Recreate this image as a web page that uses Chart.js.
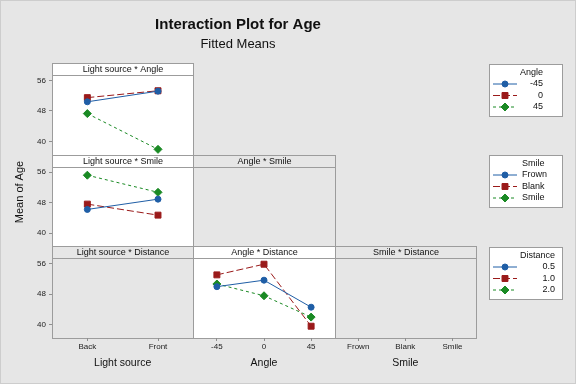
<!DOCTYPE html>
<html>
<head>
<meta charset="utf-8">
<script src="https://cdn.jsdelivr.net/npm/chart.js@4"></script>
<style>
  html, body { margin: 0; padding: 0; background: #e6e6e6; }
  canvas { display: block; }
</style>
</head>
<body>
<canvas id="chart" width="576" height="384"></canvas>
<script>
// categorías de cada factor
const lightSources = ["Back", "Front"];
const angles = ["-45", "0", "45"];
const smiles = ["Frown", "Blank", "Smile"];
const distances = ["0.5", "1.0", "2.0"];
const yTicks = [40, 48, 56];

// Light source * Angle (una serie por ángulo)
const lsAngleM45 = [50.4, 53.2];
const lsAngle0 = [51.5, 53.3];
const lsAngle45 = [47.3, 37.9];

// Light source * Smile
const lsSmileFrown = [46.2, 48.9];
const lsSmileBlank = [47.6, 44.7];
const lsSmileSmile = [55.2, 50.7];

// Angle * Distance
const angDist05 = [50.0, 51.7, 44.6];
const angDist10 = [53.1, 55.9, 39.6];
const angDist20 = [50.7, 47.6, 42.0];

const FONT = '"Liberation Sans", Arial, sans-serif';
const BG = "#e6e6e6";
const FRAME = "#9c9c9c";
const HEADER = 12;
const BLUE = "#1f5ea6";
const RED = "#9a1a1a";
const GREEN = "#1a8a24";

const colIds = ["xLS", "xAng", "xSmile"];
const rowIds = ["yR1", "yR2", "yR3"];

// celdas del triángulo inferior
const panels = [
    { col: 0, row: 0, title: "Light source * Angle", filled: true },
    { col: 0, row: 1, title: "Light source * Smile", filled: true },
    { col: 1, row: 1, title: "Angle * Smile", filled: false },
    { col: 0, row: 2, title: "Light source * Distance", filled: false },
    { col: 1, row: 2, title: "Angle * Distance", filled: true },
    { col: 2, row: 2, title: "Smile * Distance", filled: false }
];

const styles = [
    { color: BLUE, pointStyle: "circle", radius: 3, dash: [] },
    { color: RED, pointStyle: "rect", radius: 4.2, dash: [7, 3] },
    { color: GREEN, pointStyle: "rectRot", radius: 4, dash: [3, 3] }
];

function series(label, data, x, y, s) {
    const st = styles[s];
    return {
        label, data, xAxisID: x, yAxisID: y,
        borderColor: st.color, backgroundColor: st.color,
        pointBorderColor: st.color, pointBackgroundColor: st.color,
        pointStyle: st.pointStyle, pointRadius: st.radius, pointBorderWidth: 1,
        borderWidth: 1, borderDash: st.dash, fill: false, tension: 0
    };
}

const datasets = [
    series(angles[0], lsAngleM45, "xLS", "yR1", 0),
    series(angles[1], lsAngle0, "xLS", "yR1", 1),
    series(angles[2], lsAngle45, "xLS", "yR1", 2),
    series(smiles[0], lsSmileFrown, "xLS", "yR2", 0),
    series(smiles[1], lsSmileBlank, "xLS", "yR2", 1),
    series(smiles[2], lsSmileSmile, "xLS", "yR2", 2),
    series(distances[0], angDist05, "xAng", "yR3", 0),
    series(distances[1], angDist10, "xAng", "yR3", 1),
    series(distances[2], angDist20, "xAng", "yR3", 2)
];

// leyendas: una caja por factor de trazo
const legendGroups = [
    { title: "Angle", names: angles, first: 0, align: "right", textX: 543, top: 64 },
    { title: "Smile", names: smiles, first: 3, align: "left", textX: 522, top: 155 },
    { title: "Distance", names: distances, first: 6, align: "right", textX: 555, top: 247 }
];

function yRow(weight) {
    return {
        type: "linear", position: "left", stack: "rows", stackWeight: 1, weight,
        min: 36.5, max: 60.6,
        afterBuildTicks: s => { s.ticks = yTicks.map(v => ({ value: v })); },
        afterFit: s => { s.width = 52; },
        grid: { drawOnChartArea: false, tickLength: 3, color: "#8f8f8f" },
        border: { display: false },
        ticks: { padding: 3, color: "#222", font: { family: FONT, size: 8 } }
    };
}

function xCol(labels, weight, title) {
    return {
        type: "category", labels, position: "bottom", stack: "cols", stackWeight: 1, weight,
        offset: true,
        afterFit: s => { s.height = 46; },
        grid: { drawOnChartArea: false, offset: false, tickLength: 3, color: "#8f8f8f" },
        border: { display: false },
        ticks: { padding: 1, maxRotation: 0, autoSkip: false, color: "#222", font: { family: FONT, size: 8 } },
        title: { display: true, text: title, color: "#111", padding: { top: 0, bottom: 15 }, font: { family: FONT, size: 10.5 } }
    };
}

const panelPlugin = {
    id: "panelPlugin",
    beforeDraw(chart) {
        const ctx = chart.ctx;
        ctx.save();
        ctx.fillStyle = BG;
        ctx.fillRect(0, 0, chart.width, chart.height);
        ctx.strokeStyle = "#cdcdcd";
        ctx.lineWidth = 1;
        ctx.strokeRect(0.5, 0.5, chart.width - 1, chart.height - 1);

        // título y subtítulo centrados sobre la zona de paneles
        const cx = chart.chartArea.right / 2;
        ctx.fillStyle = "#111";
        ctx.textAlign = "center";
        ctx.textBaseline = "middle";
        ctx.font = `bold 15px ${FONT}`;
        ctx.fillText("Interaction Plot for Age", cx, 25);
        ctx.font = `13px ${FONT}`;
        ctx.fillText("Fitted Means", cx, 44);

        ctx.save();
        ctx.translate(20, 192);
        ctx.rotate(-Math.PI / 2);
        ctx.font = `11px ${FONT}`;
        ctx.fillText("Mean of Age", 0, 0);
        ctx.restore();

        panels.forEach(p => {
            const xs = chart.scales[colIds[p.col]];
            const ys = chart.scales[rowIds[p.row]];
            const l = Math.round(xs.left) + 0.5, r = Math.round(xs.right) + 0.5;
            const t = Math.round(ys.top) + 0.5, b = Math.round(ys.bottom) + 0.5;
            ctx.fillStyle = p.filled ? "#fff" : BG;
            ctx.fillRect(l, t, r - l, b - t);
            ctx.strokeStyle = FRAME;
            ctx.strokeRect(l, t, r - l, b - t);
            ctx.beginPath();
            ctx.moveTo(l, t + HEADER);
            ctx.lineTo(r, t + HEADER);
            ctx.stroke();
            ctx.fillStyle = "#111";
            ctx.font = `9px ${FONT}`;
            ctx.fillText(p.title, (l + r) / 2, t + HEADER / 2 + 0.5);
        });
        ctx.restore();
    },
    afterDraw(chart) {
        const ctx = chart.ctx;
        const rows = [20, 31.5, 43];
        ctx.save();
        legendGroups.forEach(g => {
            ctx.fillStyle = "#fff";
            ctx.fillRect(489.5, g.top + 0.5, 73, 52);
            ctx.strokeStyle = FRAME;
            ctx.lineWidth = 1;
            ctx.setLineDash([]);
            ctx.strokeRect(489.5, g.top + 0.5, 73, 52);

            ctx.fillStyle = "#111";
            ctx.font = `9px ${FONT}`;
            ctx.textBaseline = "middle";
            ctx.textAlign = g.align;
            ctx.fillText(g.title, g.textX, g.top + 9);

            g.names.forEach((name, i) => {
                const ds = chart.data.datasets[g.first + i];
                const y = g.top + rows[i];
                ctx.strokeStyle = ds.borderColor;
                ctx.setLineDash(ds.borderDash);
                ctx.beginPath();
                ctx.moveTo(493, y);
                ctx.lineTo(517, y);
                ctx.stroke();
                ctx.setLineDash([]);
                ctx.fillStyle = ds.pointBackgroundColor;
                Chart.helpers.drawPoint(ctx, {
                    pointStyle: ds.pointStyle, radius: ds.pointRadius, rotation: 0, borderWidth: 1
                }, 505, y);
                ctx.fillStyle = "#111";
                ctx.textAlign = g.align;
                ctx.fillText(name, g.textX, y);
            });
        });
        ctx.restore();
    }
};

new Chart(document.getElementById("chart"), {
    type: "line",
    data: { datasets },
    options: {
        responsive: false,
        animation: false,
        devicePixelRatio: 1,
        events: [],
        layout: { padding: { top: 63, right: 100, bottom: 0, left: 0 } },
        plugins: { legend: { display: false }, tooltip: { enabled: false }, title: { display: false } },
        scales: {
            yR1: yRow(3),
            yR2: yRow(2),
            yR3: yRow(1),
            xLS: xCol(lightSources, 1, "Light source"),
            xAng: xCol(angles, 2, "Angle"),
            xSmile: xCol(smiles, 3, "Smile")
        }
    },
    plugins: [panelPlugin]
});
</script>
</body>
</html>
